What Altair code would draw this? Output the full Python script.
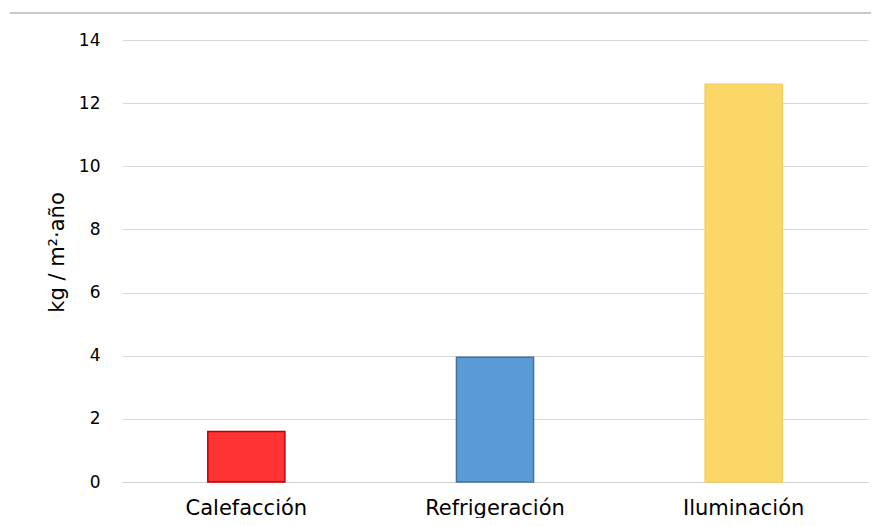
import altair as alt
import pandas as pd

categories = ["Calefacción", "Refrigeración", "Iluminación"]
values = [1.6, 3.95, 12.6]
fills = ["#FF3333", "#5B9BD5", "#FBD767"]
strokes = ["#C00000", "#41719C", "#F2CF63"]
y_ticks = [0, 2, 4, 6, 8, 10, 12, 14]

df = pd.DataFrame({"cat": categories, "val": values, "fill": fills, "stroke": strokes})

FONT = "DejaVu Sans"

bars = alt.Chart(df).mark_bar(strokeWidth=1.5).encode(
    x=alt.X("cat:N", sort=None, title=None,
            scale=alt.Scale(paddingInner=0.69, paddingOuter=0.345),
            axis=alt.Axis(labelAngle=0, labelFont=FONT, labelFontSize=21, labelColor="#000000",
                          labelBaseline="alphabetic", labelPadding=32, ticks=False, grid=False,
                          domainColor="#D0D0D0", domainWidth=1)),
    y=alt.Y("val:Q", title="kg / m²·año",
            scale=alt.Scale(domain=[0, 14], nice=False),
            axis=alt.Axis(values=y_ticks, labelFont=FONT, labelFontSize=17, labelColor="#000000",
                          labelPadding=22, ticks=False, domain=False, gridColor="#D9D9D9",
                          gridWidth=1, titleFont=FONT, titleFontSize=21, titleFontWeight="normal",
                          titleColor="#000000", titleX=-55, titleY=212)),
    fill=alt.Fill("fill:N", scale=None),
    stroke=alt.Stroke("stroke:N", scale=None),
)

sep = alt.Chart(pd.DataFrame({"a": [0]})).mark_rule(color="#C8C8C8", strokeWidth=2).encode(
    x=alt.value(-112), x2=alt.value(770), y=alt.value(-27), y2=alt.value(-27)
)

chart = (bars + sep).properties(
    width=746, height=442,
    background="#FFFFFF",
    autosize=alt.AutoSizeParams(type="none"),
    padding={"left": 114, "top": 32, "right": 3, "bottom": 36},
).configure_view(stroke="transparent")

chart.save("out.html", embed_options={"renderer": "svg", "actions": False})
